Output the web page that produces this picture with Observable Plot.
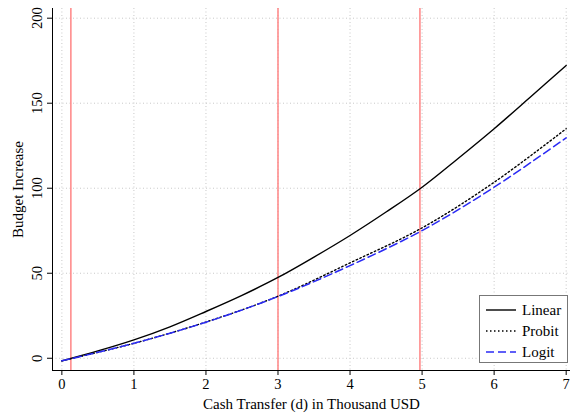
<!DOCTYPE html>
<html>
<head>
<meta charset="utf-8">
<script src="https://cdn.jsdelivr.net/npm/d3@7"></script>
<script src="https://cdn.jsdelivr.net/npm/@observablehq/plot@0.6"></script>
<style>
  html, body { margin: 0; padding: 0; background: #fff; }
  #wrap { position: relative; width: 570px; height: 414px; font-family: "Liberation Serif", "Times New Roman", serif; }
  #legend { position: absolute; left: 479px; top: 295px; width: 89px; height: 68px; border: 1px solid #777; background: #fff; box-sizing: border-box; font-size: 15px; color: #000; }
  #legend .row { position: absolute; left: 5px; height: 16px; display: flex; align-items: center; }
  #legend svg { width: 32px; height: 16px; margin-right: 5px; }
</style>
</head>
<body>
<div id="wrap"></div>
<script>
// Data
const xLinear = [0, 0.5, 1, 1.5, 2, 2.5, 3, 3.5, 4, 4.5, 5, 5.5, 6, 6.5, 7];
const yLinear = [-1.5, 4.3, 10.8, 18.5, 27.5, 37, 47.5, 59.5, 72.2, 86, 100.6, 117.5, 135, 153.5, 172.2];
const xModel = [0, 1, 2, 3, 4, 5, 6, 7];
const yProbit = [-1.5, 8.8, 21.3, 36.5, 56.1, 76.7, 103.5, 135];
const yLogit = [-1.5, 8.8, 21.2, 36.3, 54.5, 75.1, 100.6, 129.6];
const redLines = [0.125, 3, 4.97];
const xTicks = [0, 1, 2, 3, 4, 5, 6, 7];
const yTicks = [0, 50, 100, 150, 200];
const seriesNames = ["Linear", "Probit", "Logit"];
const xDomain = [-0.13, 7.06];
const yDomain = [-7.2, 205.7];

const linear = xLinear.map((x, i) => ({x, y: yLinear[i]}));
const probit = xModel.map((x, i) => ({x, y: yProbit[i]}));
const logit = xModel.map((x, i) => ({x, y: yLogit[i]}));

const styles = {
  Linear: {stroke: "#000", strokeWidth: 1.4, strokeDasharray: null},
  Probit: {stroke: "#000", strokeWidth: 1.4, strokeDasharray: "1.5,2.5"},
  Logit: {stroke: "#2a2af5", strokeWidth: 1.5, strokeDasharray: "8,4"}
};

const chart = Plot.plot({
  width: 570,
  height: 414,
  marginLeft: 52,
  marginRight: 0,
  marginTop: 8,
  marginBottom: 44,
  style: {fontFamily: "'Liberation Serif', 'Times New Roman', serif", fontSize: "15px", color: "#000", background: "#fff"},
  x: {domain: xDomain, ticks: xTicks},
  y: {domain: yDomain, ticks: yTicks},
  marks: [
    Plot.gridX(xTicks, {stroke: "#c8c8c8", strokeOpacity: 1, strokeDasharray: "1,2.5"}),
    Plot.gridY(yTicks, {stroke: "#c8c8c8", strokeOpacity: 1, strokeDasharray: "1,2.5"}),
    Plot.ruleX(redLines, {stroke: "#ff8585", strokeWidth: 1.5}),
    Plot.line(linear, {x: "x", y: "y", curve: "catmull-rom", ...styles.Linear}),
    Plot.line(probit, {x: "x", y: "y", curve: "catmull-rom", ...styles.Probit}),
    Plot.line(logit, {x: "x", y: "y", curve: "catmull-rom", ...styles.Logit}),
    Plot.ruleX([xDomain[0]], {stroke: "#000", strokeWidth: 1}),
    Plot.ruleY([yDomain[0]], {stroke: "#000", strokeWidth: 1}),
    Plot.axisX(xTicks, {tickSize: 5, tickPadding: 3, fontSize: 14.5, label: null}),
    Plot.axisX({label: "Cash Transfer (d) in Thousand USD", labelAnchor: "center", labelArrow: "none", labelOffset: 38, ticks: [], tickSize: 0, fontSize: 15}),
    Plot.axisY(yTicks, {tickSize: 5, tickPadding: 6, tickRotate: -90, fontSize: 14.5, label: null}),
    Plot.axisY({label: "Budget Increase", labelAnchor: "center", labelArrow: "none", labelOffset: 40, ticks: [], tickSize: 0, fontSize: 15})
  ]
});

const wrap = document.getElementById("wrap");
wrap.appendChild(chart);

// Legend box inside the plot area
const legend = document.createElement("div");
legend.id = "legend";
const rowTops = [6, 27, 48];
seriesNames.forEach((name, i) => {
  const s = styles[name];
  const row = document.createElement("div");
  row.className = "row";
  row.style.top = rowTops[i] + "px";
  row.innerHTML = `<svg viewBox="0 0 32 16"><line x1="1" x2="31" y1="8" y2="8" stroke="${s.stroke}" stroke-width="${s.strokeWidth}" ${s.strokeDasharray ? `stroke-dasharray="${s.strokeDasharray}"` : ""}/></svg><span>${name}</span>`;
  legend.appendChild(row);
});
wrap.appendChild(legend);
</script>
</body>
</html>
